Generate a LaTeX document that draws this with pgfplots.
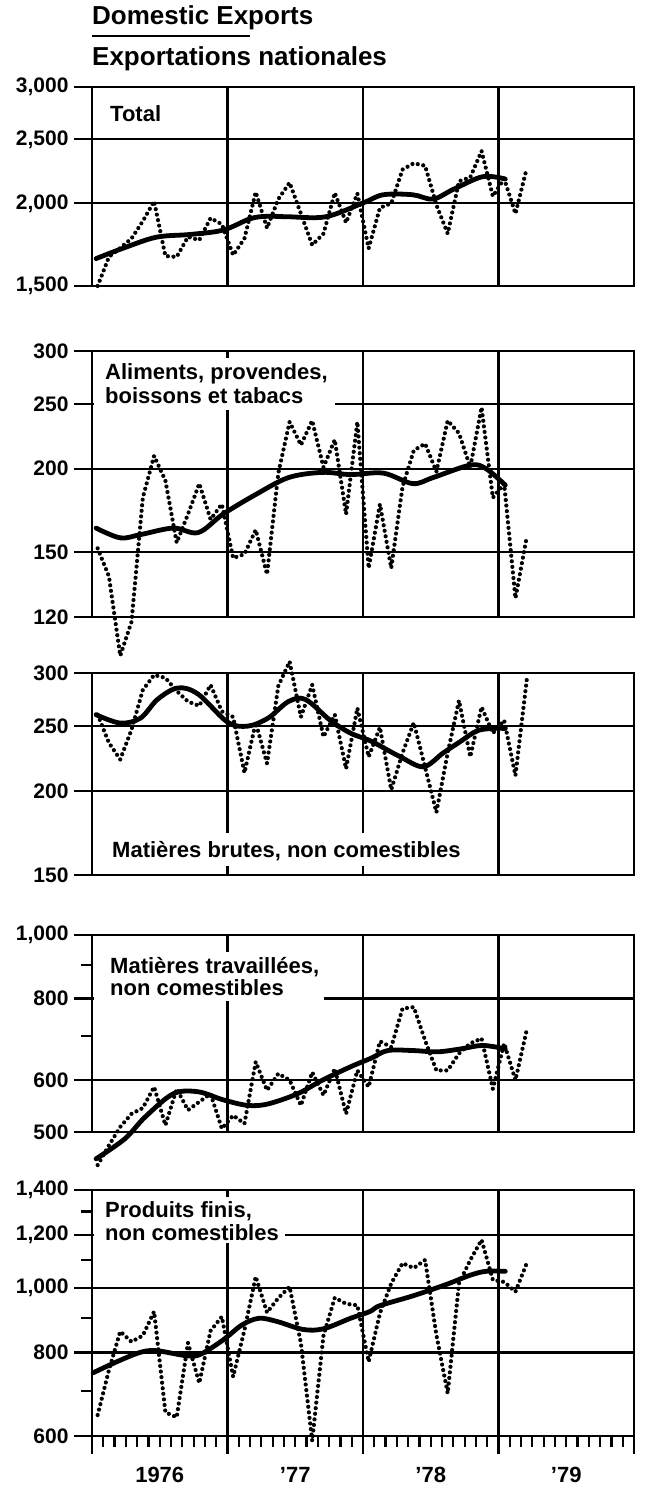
\documentclass[border=0pt]{standalone}
\usepackage{fontspec}
\setmainfont{Liberation Sans}
\usepackage{pgfplots}
\pgfplotsset{compat=1.18}
\newcommand{\lab}{\fontsize{22pt}{24pt}\selectfont\bfseries}
\newcommand{\tkl}{\fontsize{21pt}{24pt}\selectfont\bfseries}
\newcommand{\ttl}{\fontsize{26pt}{28pt}\selectfont\bfseries}
\pgfplotsset{
 mypanel/.style={
  scale only axis, width=542pt, xmin=0, xmax=48, clip=false,
  axis line style={line width=2.4pt},
  xmajorgrids=true, ymajorgrids=true,
  major grid style={line width=2.2pt, black},
  ytick pos=left, tick align=outside,
  ytick style={line width=2.2pt, black},
  major tick length=18pt, minor tick length=11pt,
  yticklabel style={font=\tkl, xshift=-2pt},
 },
 myupper/.style={xtick={12,24,36}, xticklabels={}, xtick style={draw=none}},
}
\tikzset{
 mydots/.style={black, line width=4.2pt, line cap=round, dash pattern=on 0pt off 5.6pt, sharp plot},
 mytrend/.style={black, line width=4.8pt, smooth, tension=0.55, line join=round, line cap=round},
}
\begin{document}
\begin{tikzpicture}
\useasboundingbox (0pt,0pt) rectangle (645pt,-1487pt);
% titles
\node[anchor=base west, inner sep=0pt, font=\ttl] at (92pt,-25pt) {Domestic Exports};
\draw[line width=2.2pt] (92pt,-36pt) -- (250pt,-36pt);
\node[anchor=base west, inner sep=0pt, font=\ttl] at (92pt,-66pt) {Exportations nationales};

% Panel 1: Total
\begin{axis}[ymode=log, mypanel, myupper, at={(92pt,-286pt)}, anchor=south west, height=199pt,
  ymin=1500, ymax=3000, ytick={1500,2000,2500,3000},
  yticklabels={{1,500},{2,000},{2,500},{3,000}}]
\addplot[mydots] coordinates {(0.5,1500)(1.5,1660)(2.5,1712)(3.5,1770)(4.5,1880)(5.5,2015)(6.5,1665)(7.5,1660)(8.5,1780)(9.5,1760)(10.5,1900)(11.5,1860)(12.5,1670)(13.5,1770)(14.5,2080)(15.5,1835)(16.5,2030)(17.5,2150)(18.5,1930)(19.5,1730)(20.5,1800)(21.5,2075)(22.5,1870)(23.5,2070)(24.5,1710)(25.5,1970)(26.5,2000)(27.5,2250)(28.5,2300)(29.5,2280)(30.5,1990)(31.5,1800)(32.5,2160)(33.5,2190)(34.5,2400)(35.5,2050)(36.5,2180)(37.5,1930)(38.5,2260)};
\addplot[mytrend] coordinates {(0.36,1650)(2.8,1712)(5.7,1778)(8.7,1795)(11.6,1822)(14.0,1896)(15.5,1912)(17.4,1909)(20.7,1909)(24.0,2003)(25.8,2061)(28.4,2061)(30.2,2030)(32.0,2100)(34.6,2195)(36.6,2177)};
\end{axis}
\node[anchor=base west, inner sep=0pt, font=\lab] at (110pt,-122pt) {Total};

% Panel 2: Aliments
\begin{axis}[ymode=log, mypanel, myupper, at={(92pt,-617pt)}, anchor=south west, height=266pt,
  ymin=120, ymax=300, ytick={120,150,200,250,300},
  yticklabels={120,150,200,250,300}]
\addplot[mydots] coordinates {(0.5,152)(1.5,138)(2.5,105)(3.5,118)(4.5,181)(5.5,209)(6.5,192)(7.5,155)(8.5,171)(9.5,190)(10.5,168)(11.5,177)(12.5,147)(13.5,149)(14.5,162)(15.5,139)(16.5,197)(17.5,235)(18.5,217)(19.5,236)(20.5,201)(21.5,221)(22.5,171)(23.5,235)(24.5,142)(25.5,177)(26.5,142)(27.5,188)(28.5,213)(29.5,218)(30.5,198)(31.5,236)(32.5,226)(33.5,201)(34.5,247)(35.5,181)(36.5,190)(37.5,128)(38.5,158)};
\addplot[mytrend] coordinates {(0.36,163)(2.5,157.6)(4.3,159.4)(7.2,163)(9.4,160.5)(11.6,171)(14.5,183)(17.4,194)(20.4,197.5)(22.9,196)(25.8,197)(28.4,190)(30.2,194)(33.5,202.5)(34.9,200)(36.6,189)};
\end{axis}
\fill[white] (94pt,-358pt) rectangle (335pt,-410pt);
\node[anchor=base west, inner sep=0pt, font=\lab] at (105pt,-379pt) {Aliments, provendes,};
\node[anchor=base west, inner sep=0pt, font=\lab] at (105pt,-403pt) {boissons et tabacs};

% Panel 3: Matieres brutes
\begin{axis}[ymode=log, mypanel, myupper, at={(92pt,-875pt)}, anchor=south west, height=202pt,
  ymin=150, ymax=300, ytick={150,200,250,300},
  yticklabels={150,200,250,300}]
\addplot[mydots] coordinates {(0.5,260)(1.5,236)(2.5,223)(3.5,247)(4.5,283)(5.5,298)(6.5,295)(7.5,282)(8.5,272)(9.5,268)(10.5,288)(11.5,263)(12.5,258)(13.5,213)(14.5,253)(15.5,220)(16.5,287)(17.5,312)(18.5,258)(19.5,288)(20.5,241)(21.5,260)(22.5,216)(23.5,266)(24.5,225)(25.5,249)(26.5,201)(27.5,228)(28.5,253)(29.5,217)(30.5,186)(31.5,228)(32.5,273)(33.5,225)(34.5,267)(35.5,244)(36.5,255)(37.5,211)(38.5,293)};
\addplot[mytrend] coordinates {(0.36,260)(2.5,252.6)(4.3,257)(5.8,274)(7.6,285)(9.4,279)(12.0,253.5)(13.8,250)(15.6,257)(17.4,272)(18.9,274)(21.1,255)(22.9,244)(24.7,237.5)(27.3,225)(29.35,217.5)(31.1,228)(32.6,237)(34.1,246)(35.5,248)(36.6,248)};
\end{axis}
\fill[white] (100pt,-833pt) rectangle (475pt,-866pt);
\node[anchor=base west, inner sep=0pt, font=\lab] at (112pt,-857pt) {Matières brutes, non comestibles};

% Panel 4: Matieres travaillees
\begin{axis}[ymode=log, mypanel, myupper, at={(92pt,-1132pt)}, anchor=south west, height=197pt,
  ymin=500, ymax=1000, ytick={500,600,800,1000},
  yticklabels={500,600,800,{1,000}}, minor ytick={700,900}]
\addplot[mydots] coordinates {(0.5,445)(1.5,477)(2.5,509)(3.5,533)(4.5,544)(5.5,586)(6.5,512)(7.5,582)(8.5,540)(9.5,556)(10.5,572)(11.5,506)(12.5,530)(13.5,515)(14.5,640)(15.5,579)(16.5,614)(17.5,600)(18.5,549)(19.5,617)(20.5,569)(21.5,625)(22.5,533)(23.5,621)(24.5,586)(25.5,688)(26.5,674)(27.5,772)(28.5,776)(29.5,690)(30.5,621)(31.5,621)(32.5,659)(33.5,683)(34.5,695)(35.5,582)(36.5,683)(37.5,600)(38.5,716)};
\addplot[mytrend] coordinates {(0.36,455)(2.9,488)(4.7,527)(7.2,572)(9.4,576)(11.6,560)(13.8,549)(15.6,552)(18.2,572)(20.4,600)(22.9,629)(24.7,648)(26.2,666)(28.4,666)(30.6,663)(32.7,670)(34.6,678)(36.6,670)};
\end{axis}
\fill[white] (94pt,-952pt) rectangle (324pt,-1001pt);
\node[anchor=base west, inner sep=0pt, font=\lab] at (110pt,-973pt) {Matières travaillées,};
\node[anchor=base west, inner sep=0pt, font=\lab] at (110pt,-995pt) {non comestibles};

% Panel 5: Produits finis
\begin{axis}[ymode=log, mypanel, at={(92pt,-1436pt)}, anchor=south west, height=246pt,
  ymin=600, ymax=1400, ytick={600,800,1000,1200,1400},
  yticklabels={600,800,{1,000},{1,200},{1,400}}, minor ytick={700,900,1100,1300},
  xtick={0,12,24,36,48}, xticklabels={}, minor x tick num=11, xtick pos=bottom,
  xtick style={line width=2.2pt, black}]
\addplot[mydots] coordinates {(0.5,645)(1.5,753)(2.5,860)(3.5,830)(4.5,848)(5.5,921)(6.5,651)(7.5,640)(8.5,827)(9.5,720)(10.5,862)(11.5,905)(12.5,736)(13.5,864)(14.5,1039)(15.5,918)(16.5,965)(17.5,1003)(18.5,826)(19.5,590)(20.5,848)(21.5,966)(22.5,946)(23.5,941)(24.5,775)(25.5,916)(26.5,1015)(27.5,1088)(28.5,1070)(29.5,1100)(30.5,850)(31.5,695)(32.5,1015)(33.5,1100)(34.5,1179)(35.5,1027)(36.5,1020)(37.5,986)(38.5,1088)};
\addplot[mytrend] coordinates {(0.1,746)(2.2,775)(4.25,800)(5.7,805)(8.4,791)(9.6,795)(11.6,835)(13.3,880)(14.8,900)(16.4,890)(18.7,866)(20.5,868)(22.9,900)(24.6,921)(25.5,940)(28.4,972)(31.3,1010)(33.5,1044)(34.9,1058)(36.6,1058)};
\node[anchor=base, inner sep=0pt, font=\lab, yshift=-47pt] at (axis cs:6,600) {1976};
\node[anchor=base, inner sep=0pt, font=\lab, yshift=-47pt] at (axis cs:18,600) {’77};
\node[anchor=base, inner sep=0pt, font=\lab, yshift=-47pt] at (axis cs:30,600) {’78};
\node[anchor=base, inner sep=0pt, font=\lab, yshift=-47pt] at (axis cs:42,600) {’79};
\end{axis}
\fill[white] (94pt,-1197pt) rectangle (285pt,-1243pt);
\node[anchor=base west, inner sep=0pt, font=\lab] at (105pt,-1217pt) {Produits finis,};
\node[anchor=base west, inner sep=0pt, font=\lab] at (105pt,-1240pt) {non comestibles};
\end{tikzpicture}
\end{document}
